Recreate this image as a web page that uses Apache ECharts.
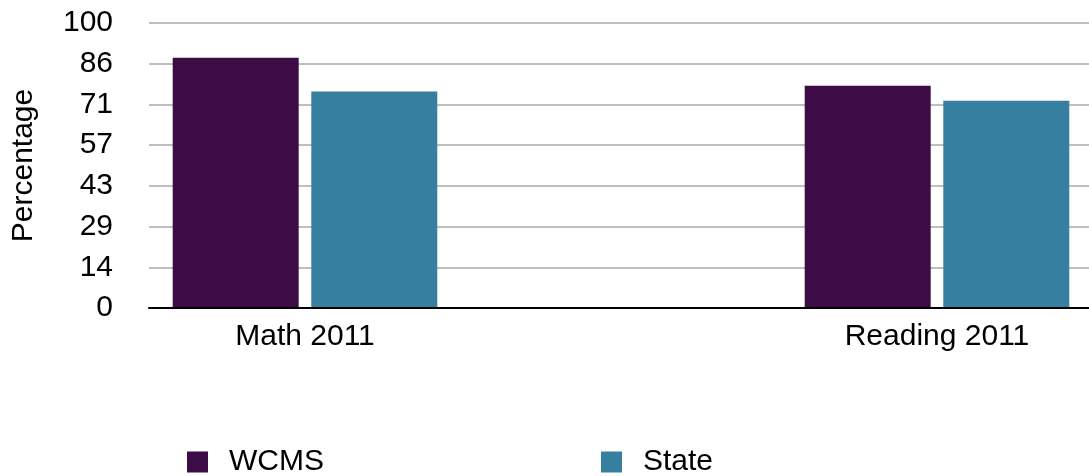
<!DOCTYPE html>
<html>
<head>
<meta charset="utf-8">
<script src="https://cdn.jsdelivr.net/npm/echarts@6/dist/echarts.min.js"></script>
<style>
html,body{margin:0;padding:0;background:#fff;overflow:hidden;width:1089px;height:476px;}
#c{position:absolute;left:-11px;top:0;width:1300px;height:476px;}
</style>
</head>
<body>
<div id="c"></div>
<script>
const categories = ['Math 2011', 'Reading 2011'];
const wcms = [87.8, 78.0];
const state = [76.0, 72.7];
const yTicks = ['0', '14', '29', '43', '57', '71', '86', '100'];
const seriesNames = ['WCMS', 'State'];

const FONT = 'Liberation Sans, Arial, Helvetica, sans-serif';
const OFF = 11;
const chart = echarts.init(document.getElementById('c'));
chart.setOption({
  animation: false,
  backgroundColor: '#fff',
  grid: [
    { left: 149 + OFF, right: 0, top: 23, bottom: 168 },
    { left: 0, width: 1264, top: 23, bottom: 168 }
  ],
  legend: [
    { data: [seriesNames[0]], left: 182 + OFF, top: 442, itemWidth: 21, itemHeight: 21, icon: 'rect',
      textStyle: { fontFamily: FONT, fontSize: 30, color: '#000', padding: [0, 0, 0, 16] } },
    { data: [seriesNames[1]], left: 596 + OFF, top: 442, itemWidth: 21, itemHeight: 21, icon: 'rect',
      textStyle: { fontFamily: FONT, fontSize: 30, color: '#000', padding: [0, 0, 0, 16] } }
  ],
  xAxis: [
    { gridIndex: 0, type: 'category', data: categories,
      axisLine: { show: true, lineStyle: { color: '#000', width: 2 } },
      axisTick: { show: false }, axisLabel: { show: false }, z: 5 },
    { gridIndex: 1, type: 'category', data: categories,
      axisLine: { show: false }, axisTick: { show: false },
      axisLabel: { fontFamily: FONT, fontSize: 30, color: '#000', margin: 14 } }
  ],
  yAxis: [
    { gridIndex: 0, type: 'value', min: 0, max: 100, interval: 100 / 7,
      name: 'Percentage', nameLocation: 'middle', nameRotate: 90, nameGap: 110,
      nameTextStyle: { fontFamily: FONT, fontSize: 30, color: '#000' },
      axisLine: { show: false }, axisTick: { show: false },
      axisLabel: { fontFamily: FONT, fontSize: 30, color: '#000', margin: 36,
        formatter: (v, i) => yTicks[i] },
      splitLine: { show: true, lineStyle: { color: '#aaaaaa', width: 1.5 } } },
    { gridIndex: 1, type: 'value', min: 0, max: 100, interval: 100 / 7, show: false,
      splitLine: { show: false } }
  ],
  series: [
    { name: seriesNames[0], type: 'bar', xAxisIndex: 1, yAxisIndex: 1, data: wcms,
      barWidth: 126, barGap: '10%', itemStyle: { color: '#3d0c47' } },
    { name: seriesNames[1], type: 'bar', xAxisIndex: 1, yAxisIndex: 1, data: state,
      barWidth: 126, barGap: '10%', itemStyle: { color: '#367fa0' } }
  ]
});
</script>
</body>
</html>
